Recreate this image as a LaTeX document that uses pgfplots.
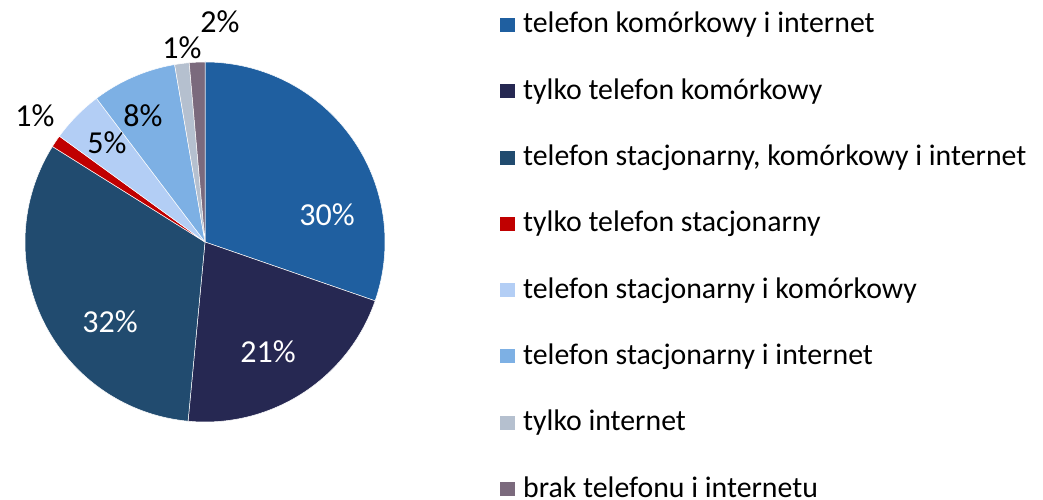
\documentclass[border=0pt]{standalone}
\usepackage{pgfplots}
\usepackage{pgfplotstable}
\pgfplotsset{compat=1.18}
\usepackage{fontspec}
\setmainfont{Carlito}

\definecolor{c1}{RGB}{31,95,160}
\definecolor{c2}{RGB}{38,40,82}
\definecolor{c3}{RGB}{33,75,111}
\definecolor{c4}{RGB}{192,0,0}
\definecolor{c5}{RGB}{179,206,245}
\definecolor{c6}{RGB}{125,176,228}
\definecolor{c7}{RGB}{181,192,207}
\definecolor{c8}{RGB}{123,106,125}

% value, colour, label position (pixel coords, y downwards), label text, text colour
\pgfplotstableread[col sep=semicolon]{
val;col;lx;ly;lab;tc;name
30.3;c1;327;215;30;white;telefon komórkowy i internet
21.2;c2;268;352;21;white;tylko telefon komórkowy
32.4;c3;110;322;32;white;telefon stacjonarny, komórkowy i internet
1.1;c4;35;116;1;black;tylko telefon stacjonarny
4.7;c5;107;143;5;black;telefon stacjonarny i komórkowy
7.6;c6;143;116;8;black;telefon stacjonarny i internet
1.3;c7;182;48;1;black;tylko internet
1.4;c8;220;22;2;black;brak telefonu i internetu
}\piedata

\begin{document}
\begin{tikzpicture}
\begin{axis}[
  scale only axis, width=1043pt, height=500pt,
  xmin=0, xmax=1043, ymin=0, ymax=500,
  hide axis, clip=false,
]
\coordinate (SW) at (axis cs:0,0);
\coordinate (NE) at (axis cs:1043,500);
\def\astart{90}
\pgfplotsforeachungrouped \i in {0,...,7}{%
  \pgfplotstablegetelem{\i}{val}\of\piedata \let\v\pgfplotsretval
  \pgfplotstablegetelem{\i}{col}\of\piedata \let\c\pgfplotsretval
  \pgfplotstablegetelem{\i}{lx}\of\piedata \let\lx\pgfplotsretval
  \pgfplotstablegetelem{\i}{ly}\of\piedata \let\ly\pgfplotsretval
  \pgfplotstablegetelem{\i}{lab}\of\piedata \let\lab\pgfplotsretval
  \pgfplotstablegetelem{\i}{tc}\of\piedata \let\tc\pgfplotsretval
  \pgfplotstablegetelem{\i}{name}\of\piedata \let\nm\pgfplotsretval
  \pgfmathsetmacro\aend{\astart-3.6*\v}%
  \pgfmathsetmacro\lyy{500-\ly}%
  \pgfmathsetmacro\by{500-(33+66.3*\i)}%
  \pgfmathsetmacro\sqb{\by+1}%
  \pgfmathsetmacro\sqt{\by+15}%
  \edef\doit{%
    \noexpand\fill[\c, draw=white, line width=0.5pt, line join=round]
      (axis cs:205,258) -- ++(\astart:180pt)
      arc[start angle=\astart, end angle=\aend, radius=180pt] -- cycle;
    \noexpand\node[text=\tc, inner sep=0pt, font=\noexpand\fontsize{32}{38}\noexpand\selectfont]
      at (axis cs:\lx,\lyy) {\lab\noexpand\%};
    \noexpand\fill[\c] (axis cs:500,\sqb) rectangle (axis cs:515,\sqt);
    \noexpand\node[anchor=base west, inner sep=0pt, font=\noexpand\fontsize{29.8}{35}\noexpand\selectfont]
      at (axis cs:523,\by) {\nm};
  }%
  \doit
  \let\astart\aend
}
\end{axis}
\pgfresetboundingbox
\path[use as bounding box] (SW) rectangle (NE);
\end{tikzpicture}
\end{document}
